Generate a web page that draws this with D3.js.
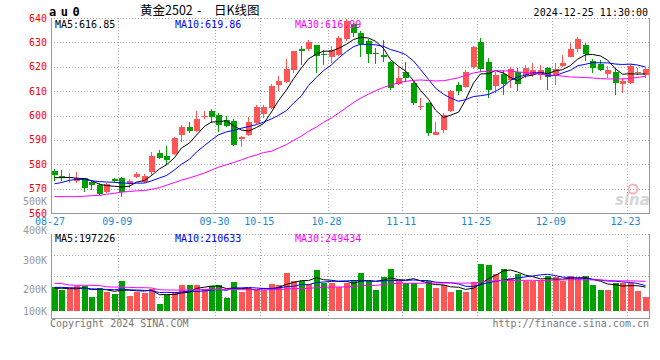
<!DOCTYPE html>
<html><head><meta charset="utf-8">
<script src="https://cdn.jsdelivr.net/npm/d3@7"></script>
<style>
html,body{margin:0;padding:0;background:#fff;}
svg{display:block;}
text{font-family:"DejaVu Sans Mono",monospace;font-size:10px;}
</style></head><body>
<svg id="chart" width="660" height="360"></svg>
<script>
// ---------- data ----------
const dates = ["08-27","08-28","08-29","08-30",
 "09-02","09-03","09-04","09-05","09-06","09-09","09-10","09-11","09-12","09-13","09-18","09-19","09-20","09-23","09-24","09-25","09-26","09-27","09-30",
 "10-08","10-09","10-10","10-11","10-14","10-15","10-16","10-17","10-18","10-21","10-22","10-23","10-24","10-25","10-28","10-29","10-30","10-31",
 "11-01","11-04","11-05","11-06","11-07","11-08","11-11","11-12","11-13","11-14","11-15","11-18","11-19","11-20","11-21","11-22","11-25","11-26","11-27","11-28","11-29",
 "12-02","12-03","12-04","12-05","12-06","12-09","12-10","12-11","12-12","12-13","12-16","12-17","12-18","12-19","12-20","12-23","12-24","12-25"];
const open  = [577.2,575.3,574.5,573.0,574.2,572.7,571.5,568.7,574.0,574.5,571.9,574.8,572.8,577.0,584.5,583.4,584.3,592.0,595.4,593.6,599.3,602.0,600.2,598.2,597.9,590.3,592.0,597.0,600.6,602.9,612.5,613.6,618.5,627.4,627.3,628.8,625.2,623.9,625.0,631.5,637.5,633.8,630.5,625.8,625.0,622.1,612.9,618.0,613.2,603.7,605.3,592.0,594.1,602.0,612.5,611.6,619.8,630.3,622.0,612.1,617.0,614.6,618.0,616.6,616.6,616.6,619.6,616.2,620.3,624.1,627.3,628.9,622.4,621.1,617.0,618.0,612.8,613.2,617.3,616.6];
const high  = [577.9,577.6,576.5,576.7,574.4,573.4,572.2,572.4,574.5,574.6,573.8,577.0,575.9,585.0,585.8,587.5,591.0,596.1,597.2,602.0,601.8,602.5,601.2,599.8,598.6,591.5,599.5,604.4,604.3,613.0,616.2,623.2,626.5,628.4,631.1,629.1,626.7,628.4,632.5,639.5,638.0,634.8,631.5,627.6,631.0,622.5,620.0,621.8,614.6,607.0,605.7,597.5,600.9,610.5,613.9,618.5,628.6,631.7,623.5,618.0,618.7,619.8,619.4,620.9,621.4,620.7,620.0,621.4,624.8,629.9,632.3,629.9,623.1,622.8,620.3,619.4,615.3,621.0,619.4,619.4];
const low   = [573.3,573.2,572.4,572.4,568.7,569.4,567.4,568.1,572.4,566.7,570.1,574.3,572.3,575.3,582.0,579.7,584.0,589.3,592.7,593.4,598.4,596.8,593.4,595.4,587.5,587.0,591.6,596.5,598.9,602.5,610.2,613.2,617.4,620.9,626.3,617.4,620.9,621.5,624.6,630.7,632.2,624.2,621.5,621.1,622.1,610.5,612.7,613.9,604.3,602.3,591.6,591.8,593.0,601.5,608.4,611.3,619.0,618.0,607.3,609.1,608.4,611.2,610.1,615.4,615.9,614.6,610.5,612.5,620.0,623.9,626.2,622.5,617.6,618.4,615.3,608.4,609.4,612.8,616.6,615.3];
const close = [575.6,575.1,574.9,574.4,570.4,571.6,567.8,571.9,573.3,568.7,573.3,576.1,575.3,583.4,582.4,581.7,590.6,595.2,593.8,598.6,599.6,599.3,596.1,595.7,588.0,591.1,597.2,603.4,603.6,612.1,614.2,619.1,626.3,626.3,630.2,624.3,624.7,626.7,631.8,638.6,634.0,629.3,625.3,625.1,623.9,611.2,615.5,615.5,605.3,604.0,593.0,593.4,600.2,610.1,610.1,618.0,628.2,618.9,610.5,616.6,612.9,618.9,612.9,619.4,618.7,618.7,616.0,618.9,621.7,627.3,631.4,625.2,619.6,618.7,618.7,613.5,614.3,620.4,618.0,619.1];
const volume = [208300,199100,201500,212700,212700,176300,204900,193300,185500,230800,
 178700,193300,189900,201500,151400,182100,193300,216100,216100,216100,
 201500,212700,216100,172900,226300,192300,205900,199100,199100,219500,
 216100,258000,230800,230800,219500,267200,221900,221900,208300,224000,
 233200,258000,229800,199100,242300,270600,229800,221900,224000,205900,
 229800,205900,216100,192300,199100,192300,226300,287600,284200,253600,
 270600,240000,253600,229800,229800,229800,247800,242300,230800,246800,
 236600,246800,216100,199100,199100,224000,224000,224000,196700,176300];
// moving-average values before a full window exists
const ma5Lead  = [574.5,574.5,574.6,574.3];
const ma10Lead = [572.0,572.5,573.4,573.8,573.8,573.2,572.9,572.7,572.6];
const ma30Lead = [566.7,566.7,566.7,566.7,566.9,567.1,567.2,567.7,568.1,568.6,568.8,569.1,569.2,569.7,570.4,571.4,572.5,573.5,574.4,575.3,576.4,577.6,578.8,579.8,580.7,581.8,582.9,583.8,584.8];
const volMa5Lead  = [205000,205000,204000,203000];
const volMa10Lead = [208000,208000,207000,206000,205000,203000,202000,201000,200000];
const volMa30Lead = [222000,221000,216000,215000,215000,215000,214000,210000,209000,209000,208000,207000,207000,206000,200000,199000,199000,199000,199000,200000,201000,201000,201000,201000,201000,200000,200000,200000,200000];
const priceTicks = [640,630,620,610,600,590,580,570,560];
const dateTicks = ["08-27","09-09","09-30","10-15","10-28","11-11","11-25","12-09","12-23"];
const volTicks = [500000,400000,300000,200000,100000];
const volTickLabels = ["500K","400K","300K","200K","100K"];
const maLabels = ["MA5:616.85","MA10:619.86","MA30:616.99"];
const volMaLabels = ["MA5:197226","MA10:210633","MA30:249434"];
const maColors = ["#000000","#0000ff","#ff00ff"];
const titleParts = ["黄金2502", "-", "日K线图"];
const symbolText = "au0";
const timeText = "2024-12-25 11:30:00";

// ---------- layout ----------
const L = 51, R = 649, T = 18, PB = 213, VT = 234, VB = 318, VBase = 311;
const UP = "#ff5555", DOWN = "#00a000", GRID = "#aaaaaa", BORDER = "#999999";

const svg = d3.select("#chart");
const x = d3.scaleBand().domain(dates).range([L, R]);
const y = d3.scaleLinear().domain([560, 640]).range([PB, T]);
const yv = d3.scaleLinear().domain([127600, 500000]).range([VBase, 201.6]).clamp(true);
const bx = d => Math.round(x(d));

function movingAvg(vals, n, lead) {
  return vals.map((v, i) => i < n - 1 ? lead[i] : d3.mean(vals.slice(i - n + 1, i + 1)));
}
const ma = [movingAvg(close,5,ma5Lead), movingAvg(close,10,ma10Lead), movingAvg(close,30,ma30Lead)];
const vma = [movingAvg(volume,5,volMa5Lead), movingAvg(volume,10,volMa10Lead), movingAvg(volume,30,volMa30Lead)];

// ---------- grids ----------
const g = svg.append("g").attr("shape-rendering","crispEdges");
g.selectAll(".hg").data(priceTicks.filter(v => v > 560)).join("line")
  .attr("x1", L).attr("x2", R).attr("y1", d => Math.round(y(d))+0.5).attr("y2", d => Math.round(y(d))+0.5)
  .attr("stroke", GRID).attr("stroke-dasharray","1,2");
const volGrid = d3.range(1,4).map(k => VT + (VB - VT) * k / 4);
g.selectAll(".vg").data(volGrid).join("line")
  .attr("x1", L).attr("x2", R).attr("y1", d => Math.round(d)+0.5).attr("y2", d => Math.round(d)+0.5)
  .attr("stroke", GRID).attr("stroke-dasharray","1,2");
g.append("line").attr("x1",L).attr("x2",R).attr("y1",VT+0.5).attr("y2",VT+0.5).attr("stroke",GRID).attr("stroke-dasharray","1,2");
const innerDates = dateTicks.filter(d => x(d) > L + 2 && x(d) < R - 20);
[[T, PB], [VT, VB]].forEach(([a,b]) => {
  g.selectAll(null).data(innerDates).join("line")
    .attr("x1", d => bx(d)+0.5).attr("x2", d => bx(d)+0.5).attr("y1", a).attr("y2", b)
    .attr("stroke", GRID).attr("stroke-dasharray","1,2");
});
g.append("line").attr("x1",L+0.5).attr("x2",L+0.5).attr("y1",T).attr("y2",PB).attr("stroke",BORDER);
g.append("line").attr("x1",R+0.5).attr("x2",R+0.5).attr("y1",T).attr("y2",PB).attr("stroke",BORDER);
g.append("line").attr("x1",L).attr("x2",R+1).attr("y1",PB+0.5).attr("y2",PB+0.5).attr("stroke",BORDER);
g.append("line").attr("x1",L+0.5).attr("x2",L+0.5).attr("y1",VT).attr("y2",VB).attr("stroke",BORDER);
g.append("line").attr("x1",R+0.5).attr("x2",R+0.5).attr("y1",VT).attr("y2",VB).attr("stroke",BORDER);
g.append("line").attr("x1",L).attr("x2",R+1).attr("y1",VB+0.5).attr("y2",VB+0.5).attr("stroke",BORDER);

// ---------- watermark ----------
svg.append("circle").attr("cx",633).attr("cy",189).attr("r",4.5).attr("fill","none").attr("stroke","#f4b4b4").attr("stroke-width",2);
svg.append("text").attr("x",615).attr("y",205).text("sina")
  .style("font-family","DejaVu Sans").style("font-size","15px").style("font-style","italic").style("font-weight","bold").attr("fill","#d6d6d6");

// ---------- candles ----------
const idx = d3.range(dates.length);
const cg = svg.append("g").attr("shape-rendering","crispEdges");
const col = i => close[i] >= open[i] ? UP : DOWN;
cg.selectAll(".wick").data(idx).join("rect")
  .attr("x", i => bx(dates[i]) + 3).attr("width", 1)
  .attr("y", i => y(high[i])).attr("height", i => Math.max(1, y(low[i]) - y(high[i])))
  .attr("fill", col);
cg.selectAll(".body").data(idx).join("rect")
  .attr("x", i => bx(dates[i]) + 0.5).attr("width", 6)
  .attr("y", i => y(Math.max(open[i], close[i])))
  .attr("height", i => Math.max(1, Math.abs(y(open[i]) - y(close[i]))))
  .attr("fill", col);

// ---------- MA lines ----------
const lineP = d3.line().x((d,i) => bx(dates[i]) + 3.5).y(d => y(d));
ma.forEach((s,k) => svg.append("path").attr("d", lineP(s)).attr("fill","none").attr("stroke", maColors[k]).attr("stroke-width",1));

// ---------- volume ----------
const vg = svg.append("g").attr("shape-rendering","crispEdges");
vg.selectAll("rect").data(idx).join("rect")
  .attr("x", i => bx(dates[i]) + 0.5).attr("width", 6)
  .attr("y", i => yv(volume[i])).attr("height", i => yv(yv.domain()[0]) - yv(volume[i]))
  .attr("fill", col);
const lineV = d3.line().x((d,i) => bx(dates[i]) + 3.5).y(d => yv(d));
vma.forEach((s,k) => svg.append("path").attr("d", lineV(s)).attr("fill","none").attr("stroke", maColors[k]).attr("stroke-width",1));

// ---------- axis labels ----------
svg.selectAll(".pt").data(priceTicks).join("text")
  .attr("x", 47).attr("y", d => y(d) + 3.5).attr("text-anchor","end").attr("fill","#ff0000").text(d => d);
svg.selectAll(".vt").data(volTicks).join("text")
  .attr("x", 47).attr("y", d => yv(d) + 3.5).attr("text-anchor","end").attr("fill","#999999")
  .text((d,i) => volTickLabels[i]);
svg.selectAll(".dt").data(dateTicks).join("text")
  .attr("x", d => x(d) - 1).attr("y", 225).attr("text-anchor","middle").attr("fill","#1a87d6").text(d => d);

// ---------- legends / header ----------
const legX = [55, 175, 295];
maLabels.forEach((t,k) => svg.append("text").attr("x", legX[k]).attr("y", 28).attr("fill", maColors[k]).text(t));
volMaLabels.forEach((t,k) => svg.append("text").attr("x", legX[k]).attr("y", 242).attr("fill", maColors[k]).text(t));
svg.append("text").attr("x", 49).attr("y", 16).text(symbolText)
  .style("font-size","12px").style("font-weight","bold").style("letter-spacing","4.5px");
const titleX = [140, 197, 214];
titleParts.forEach((t,k) => svg.append("text").attr("x", titleX[k]).attr("y", 15).text(t)
  .style("font-family","'Noto Sans CJK SC', sans-serif").style("font-size","12.5px"));
svg.append("text").attr("x", 648).attr("y", 16).attr("text-anchor","end").text(timeText);
svg.append("text").attr("x", 50).attr("y", 327).attr("fill","#777").text("Copyright 2024 SINA.COM");
svg.append("text").attr("x", 649).attr("y", 327).attr("text-anchor","end").attr("fill","#777").text("http://finance.sina.com.cn");
</script>
</body></html>
